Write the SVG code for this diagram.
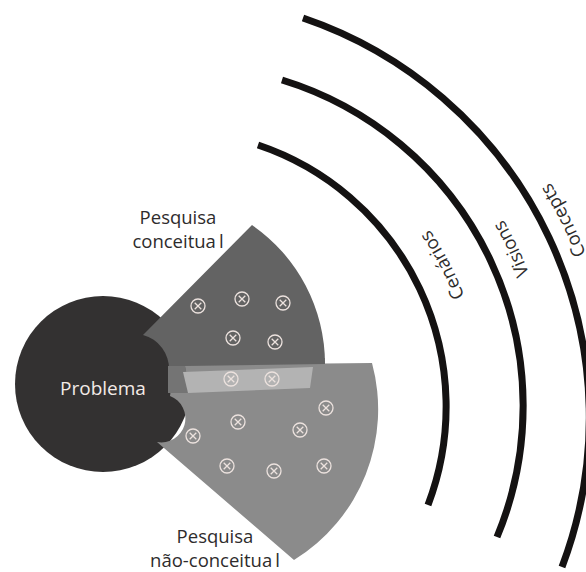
<svg xmlns="http://www.w3.org/2000/svg" width="586" height="572" viewBox="0 0 586 572">
<style>
 .lbl{font-family:"Open Sans","Noto Sans","Liberation Sans",sans-serif;font-size:18.5px;fill:#2e2c2c;text-anchor:middle}
 .arc{fill:none;stroke:#141212;stroke-width:7}
 .mk{fill:none;stroke:#ece2de;stroke-width:1.3}
</style>
<defs>
 <g id="m" class="mk"><circle r="7"/><path d="M-3.3 -3.3L3.3 3.3M3.3 -3.3L-3.3 3.3"/></g>
 <path id="p1" d="M 469.9 501.6 A 314.5 314.5 0 0 0 264.6 107.1"/>
 <path id="p2" d="M 532.2 530.0 A 371.5 371.5 0 0 0 306.0 55.8"/>
 <path id="p3" d="M 593.7 560.8 A 450 450 0 0 0 309.8 -8.7"/>
</defs>
<rect width="586" height="572" fill="#ffffff"/>
<g id="problema">
 <circle cx="103" cy="384" r="88" fill="#333131"/>
</g>
<g id="pesquisa-nao-conceitual">
 <path d="M 157 442 L 294 560 A 177 177 0 0 0 372 363 L 325 363.5 L 325 358 L 175 358 L 170 396 A 24 24 0 0 1 157 442 Z" fill="#8b8b8b"/>
</g>
<g id="pesquisa-conceitual">
 <path d="M 143 335 L 252 225 A 169 169 0 0 1 325 364 L 185 366 L 190 393 L 168 393 L 169 370 A 35 35 0 0 0 143 335 Z" fill="#636363"/>
</g>
<g id="overlap">
 <polygon points="168,366 185,366 190,393 168,393" fill="#747474"/>
 <polygon points="183,372 313,367 310,388 188,393" fill="#b3b3b3"/>
</g>
<g id="markers">
 <use href="#m" x="198" y="306"/>
 <use href="#m" x="242" y="299"/>
 <use href="#m" x="283" y="303"/>
 <use href="#m" x="233" y="338"/>
 <use href="#m" x="275" y="342"/>
 <use href="#m" x="231" y="379"/>
 <use href="#m" x="272" y="379"/>
 <use href="#m" x="193" y="436"/>
 <use href="#m" x="238" y="422"/>
 <use href="#m" x="300" y="430"/>
 <use href="#m" x="326" y="408"/>
 <use href="#m" x="227" y="466"/>
 <use href="#m" x="274" y="471"/>
 <use href="#m" x="324" y="466"/>
</g>
<g id="labels">
 <text x="103" y="395" style="font-family:'Open Sans','Noto Sans','Liberation Sans',sans-serif;font-size:19px;fill:#f3ebe7;text-anchor:middle">Problema</text>
 <text class="lbl" x="178" y="224">Pesquisa</text>
 <text class="lbl" x="178" y="248">conceitua<tspan dx="3">l</tspan></text>
 <text class="lbl" x="215" y="543">Pesquisa</text>
 <text class="lbl" x="215" y="567">não-conceitua<tspan dx="3">l</tspan></text>
</g>
<g id="cenarios">
 <path class="arc" d="M 258 145 A 276 276 0 0 1 428 505"/>
 <text class="lbl"><textPath href="#p1" startOffset="50%">Cenários</textPath></text>
</g>
<g id="visions">
 <path class="arc" d="M 282 80 A 341 341 0 0 1 497 537"/>
 <text class="lbl"><textPath href="#p2" startOffset="50%">Visions</textPath></text>
</g>
<g id="concepts">
 <path class="arc" d="M 303 18 A 422 422 0 0 1 562 567"/>
 <text class="lbl"><textPath href="#p3" startOffset="50%">Concepts</textPath></text>
</g>
</svg>
